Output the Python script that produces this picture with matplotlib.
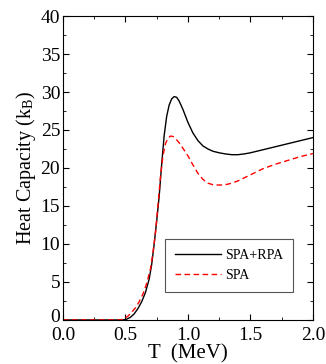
import numpy as np
import matplotlib.pyplot as plt
import matplotlib.transforms as mtransforms

plt.rcParams['font.family'] = ['Liberation Serif', 'DejaVu Serif']
plt.rcParams['mathtext.fontset'] = 'stix'

# SPA+RPA curve
t_rpa = [0.0, 0.48, 0.51, 0.54, 0.57, 0.6, 0.63, 0.66, 0.69, 0.71, 0.73, 0.75,
         0.77, 0.79, 0.81, 0.83, 0.85, 0.87, 0.89, 0.91, 0.93, 0.96, 1.0, 1.04,
         1.08, 1.12, 1.16, 1.2, 1.25, 1.3, 1.35, 1.4, 1.45, 1.5, 1.6, 1.7, 1.8,
         1.9, 2.0]
c_rpa = [0, 0, 0.1, 0.35, 0.8, 1.5, 2.4, 3.6, 5.4, 7.3, 10.0, 13.0,
         16.3, 20.5, 24.3, 26.8, 28.3, 29.1, 29.4, 29.3, 28.8, 27.7, 26.0, 24.6,
         23.6, 22.9, 22.5, 22.2, 22.0, 21.85, 21.75, 21.75, 21.85, 22.0, 22.4, 22.8, 23.2,
         23.6, 24.0]

# SPA curve
t_spa = [0.0, 0.46, 0.49, 0.52, 0.55, 0.58, 0.61, 0.64, 0.67, 0.7, 0.72, 0.74,
         0.76, 0.78, 0.8, 0.82, 0.84, 0.86, 0.88, 0.9, 0.93, 0.96, 1.0, 1.04,
         1.08, 1.12, 1.16, 1.2, 1.25, 1.3, 1.35, 1.4, 1.5, 1.6, 1.7, 1.8, 1.9, 2.0]
c_spa = [0, 0, 0.15, 0.5, 1.0, 1.6, 2.4, 3.4, 4.8, 6.7, 8.8, 11.5,
         15.0, 18.8, 21.6, 23.2, 23.9, 24.2, 24.15, 23.9, 23.3, 22.6, 21.6, 20.4,
         19.3, 18.5, 18.0, 17.8, 17.75, 17.8, 18.0, 18.3, 19.1, 19.9, 20.5, 21.0, 21.5, 21.9]

fig = plt.figure(figsize=(3.26, 3.64), dpi=100)
ax = fig.add_axes([0.193, 0.121, 0.767, 0.835])

ax.plot(t_rpa, c_rpa, color='black', lw=1.0, label='SPA+RPA')
ax.plot(t_spa, c_spa, color='red', lw=1.0, ls=(0, (4, 2.5)), label='SPA')

ax.set_xlim(0, 2.0)
ax.set_ylim(0, 40)
ax.set_xticks([0.0, 0.5, 1.0, 1.5, 2.0])
ax.set_xticklabels(['0.0', '0.5', '1.0', '1.5', '2.0'])
ax.set_xticks(np.arange(0, 2.01, 0.25), minor=True)
ax.set_yticks(range(0, 41, 5))
ax.set_yticks(np.arange(0, 40.1, 2.5), minor=True)
ax.tick_params(which='both', direction='in', top=True, right=True, labelsize=14, pad=2)
ax.tick_params(axis='x', pad=5)
ax.tick_params(which='major', length=4)
ax.tick_params(which='minor', length=2.5)

# lift the "0" on the y axis a little so it clears "0.0"
lbl0 = ax.get_yticklabels()[0]
lbl0.set_transform(lbl0.get_transform() + mtransforms.ScaledTranslation(0, 3 / 72, fig.dpi_scale_trans))

ax.set_xlabel('T  (MeV)', fontsize=15, labelpad=0)
ax.set_ylabel('Heat Capacity (k$_\\mathregular{B}$)', fontsize=14.5, labelpad=2)

leg = ax.legend(loc='lower right', bbox_to_anchor=(0.92, 0.092), fontsize=10,
                fancybox=False, framealpha=1, edgecolor='#555555',
                handlelength=3.3, handletextpad=0.3, borderpad=0.7, labelspacing=0.55,
                borderaxespad=0)
leg.get_frame().set_linewidth(0.8)

fig.savefig('out.png', dpi=100)
